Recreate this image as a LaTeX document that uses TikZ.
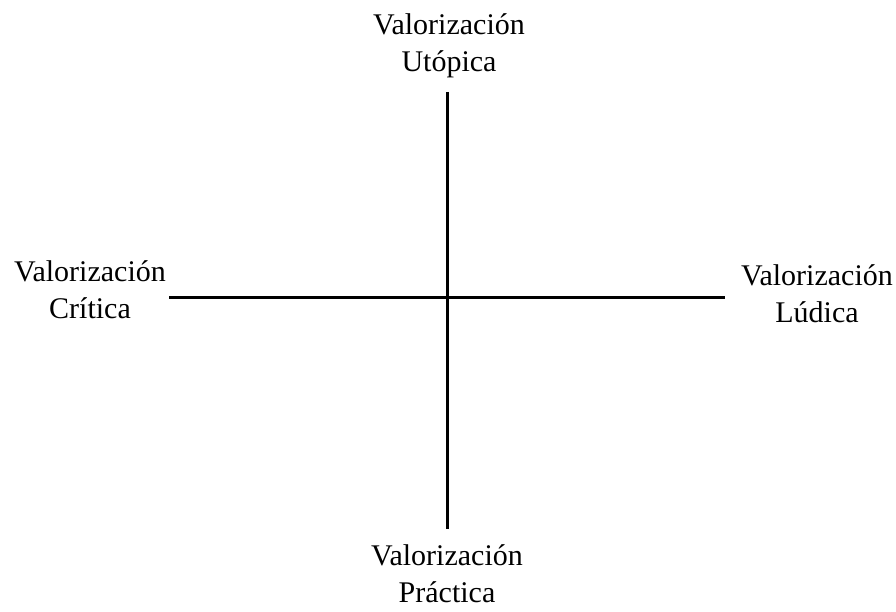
\documentclass[tikz,border=0pt]{standalone}
\usepackage{fontspec}
\setmainfont{Liberation Serif}
\usetikzlibrary{positioning}
\begin{document}
\begin{tikzpicture}[x=1pt,y=-1pt]
\tikzset{axislabel/.style={align=center,font=\fontsize{30}{37}\selectfont,inner sep=0pt}}
\useasboundingbox (0,0) rectangle (896,612);
\coordinate (up) at (447,92);
\coordinate (down) at (447,529);
\coordinate (left) at (169,297);
\coordinate (right) at (725,297);
\draw[line width=3pt] (up) -- (down);
\draw[line width=3pt] (left) -- (right);
\node[axislabel,anchor=base] (utopica) at (449,72) {Valorización\\Utópica};
\node[axislabel,anchor=base] (critica) at (90,318) {Valorización\\Crítica};
\node[axislabel,anchor=base] (ludica) at (817,322) {Valorización\\Lúdica};
\node[axislabel,anchor=base] (practica) at (447,602) {Valorización\\Práctica};
\end{tikzpicture}
\end{document}
